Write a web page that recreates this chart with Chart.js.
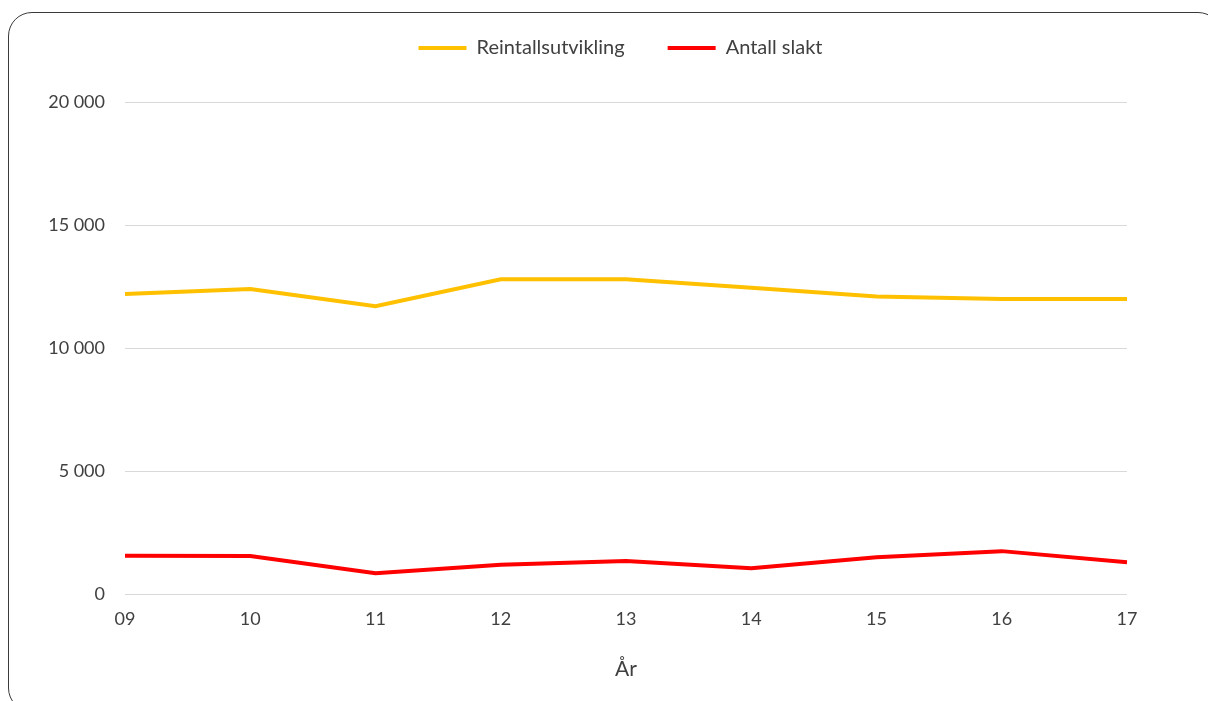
<!DOCTYPE html>
<html>
<head>
<meta charset="utf-8">
<script src="https://cdn.jsdelivr.net/npm/chart.js@4.4.1/dist/chart.umd.min.js"></script>
<style>
  html, body { margin: 0; padding: 0; background: #ffffff; }
  #frame { position: absolute; left: 8px; top: 12px; width: 1214px; height: 700px; border: 1.5px solid #3a3a3a; border-radius: 24px; box-sizing: border-box; }
  #wrap { position: absolute; left: 0; top: 0; width: 1208px; height: 701px; }
</style>
</head>
<body>
<div id="frame"></div>
<div id="wrap"><canvas id="c" width="1208" height="701"></canvas></div>
<script>
const years = ["09", "10", "11", "12", "13", "14", "15", "16", "17"];
const reintall = [12200, 12400, 11700, 12800, 12800, 12450, 12100, 12000, 12000];
const slakt = [1560, 1550, 850, 1200, 1350, 1050, 1500, 1750, 1300];
const seriesNames = ["Reintallsutvikling", "Antall slakt"];
const seriesColors = ["#FFC000", "#FF0000"];
const yTicks = [0, 5000, 10000, 15000, 20000];
const xTitle = "År";

const FONT = "Lato, 'Open Sans', sans-serif";

function fmt(v) {
  return String(v).replace(/\B(?=(\d{3})+(?!\d))/g, " ");
}

// shift the legend to match the reference placement
const legendShift = {
  id: "legendShift",
  afterLayout(chart) {
    const lg = chart.legend;
    if (!lg) return;
    lg.left += 57; lg.right += 57;
    lg.top -= 34; lg.bottom -= 34;
  }
};

new Chart(document.getElementById("c"), {
  type: "line",
  data: {
    labels: years,
    datasets: [
      { label: seriesNames[0], data: reintall, borderColor: seriesColors[0], backgroundColor: seriesColors[0], borderWidth: 4, pointRadius: 0, tension: 0, borderCapStyle: "butt" },
      { label: seriesNames[1], data: slakt, borderColor: seriesColors[1], backgroundColor: seriesColors[1], borderWidth: 4, pointRadius: 0, tension: 0, borderCapStyle: "butt" }
    ]
  },
  plugins: [legendShift],
  options: {
    responsive: false,
    animation: false,
    layout: { padding: { left: 0, right: 81, top: 29, bottom: 15 } },
    plugins: {
      tooltip: { enabled: false },
      legend: {
        position: "top",
        labels: {
          boxWidth: 48,
          boxHeight: 4,
          padding: 43,
          color: "#404040",
          font: { family: FONT, size: 20 },
          generateLabels(chart) {
            return chart.data.datasets.map((ds, i) => ({
              text: ds.label, fillStyle: ds.borderColor, strokeStyle: ds.borderColor,
              lineWidth: 0, hidden: false, datasetIndex: i, fontColor: "#404040"
            }));
          }
        }
      }
    },
    scales: {
      x: {
        type: "category",
        offset: false,
        grid: { display: false, drawTicks: false },
        border: { display: false },
        ticks: { color: "#404040", font: { family: FONT, size: 18 }, padding: 14, maxRotation: 0 },
        title: { display: true, text: xTitle, color: "#404040", font: { family: FONT, size: 21 }, padding: { top: 13 } }
      },
      y: {
        min: 0,
        max: 20000,
        afterBuildTicks(axis) { axis.ticks = yTicks.map(v => ({ value: v })); },
        afterFit(axis) { axis.width = 125; },
        grid: { color: "#d9d9d9", lineWidth: 1, drawTicks: false },
        border: { display: false },
        ticks: { color: "#404040", font: { family: FONT, size: 18 }, padding: 20, callback: v => fmt(v) }
      }
    }
  }
});
</script>
</body>
</html>
